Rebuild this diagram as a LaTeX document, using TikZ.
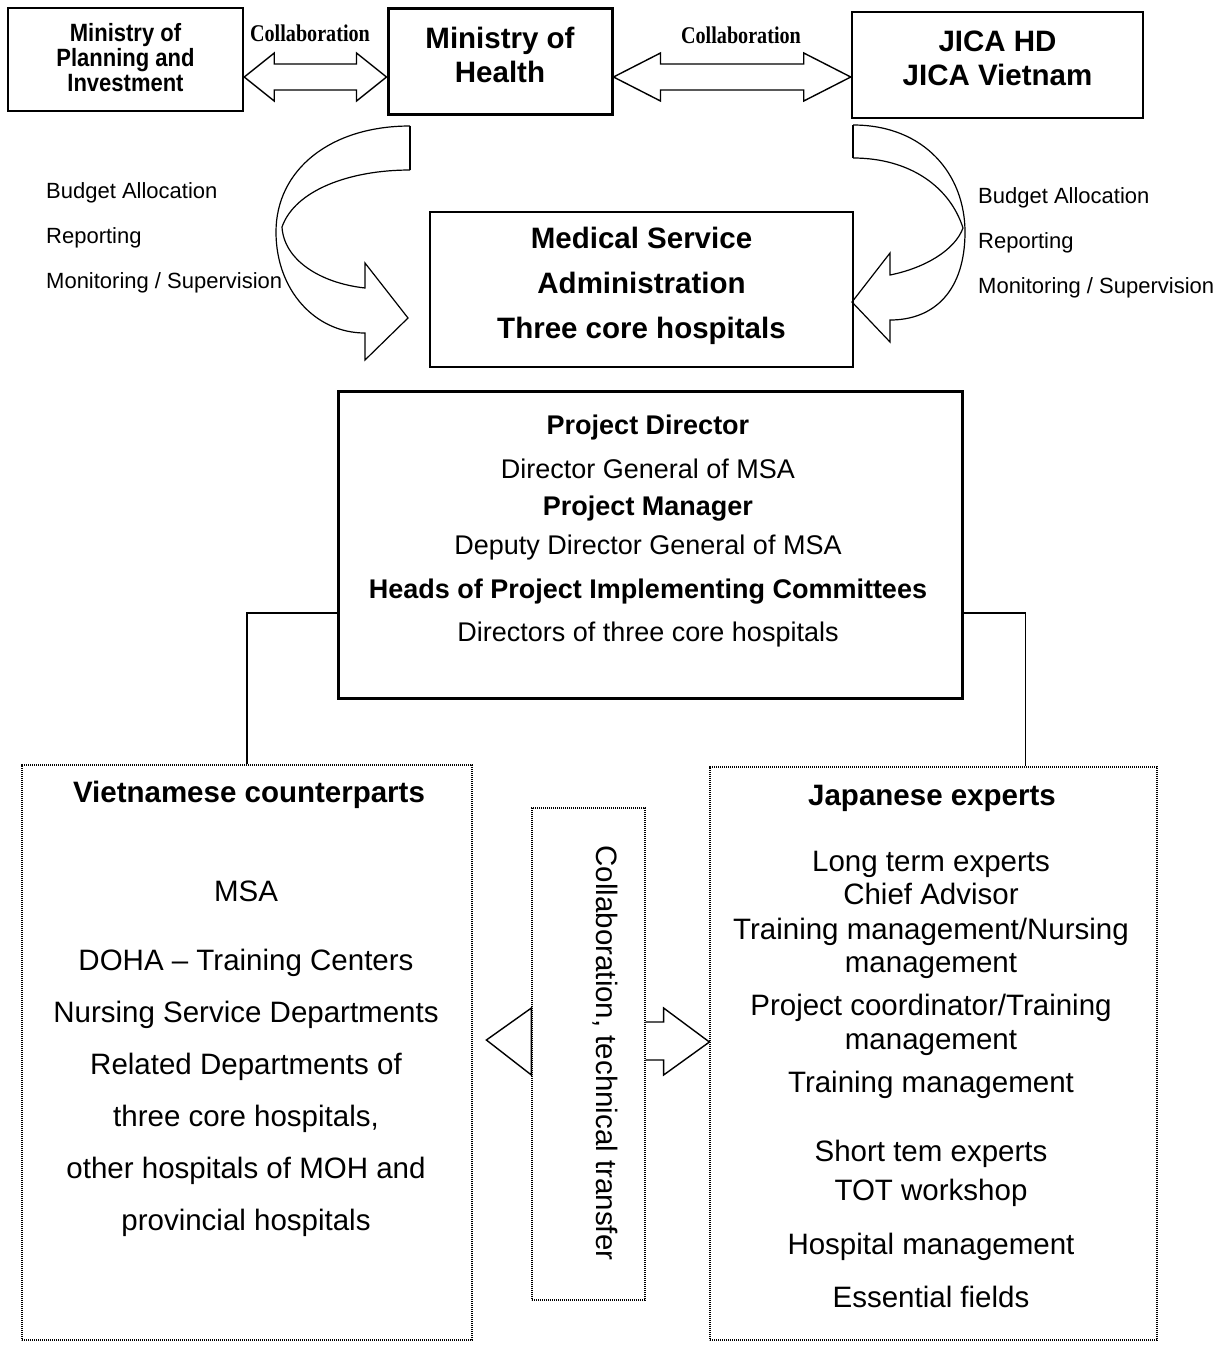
\documentclass[tikz,border=0pt]{standalone}
\usepackage{fontspec}
\setmainfont{Liberation Sans}
\newfontfamily\collabfont[FakeStretch=0.84]{Liberation Serif}
\newfontfamily\narrowfont[FakeStretch=0.88]{Liberation Sans}
\usetikzlibrary{calc}

\begin{document}
\begin{tikzpicture}[x=1pt, y=-1pt,
  box/.style={rectangle, draw, line width=2.5pt, align=center, inner sep=0pt},
  dotbox/.style={rectangle, draw, line width=1.2pt, dash pattern=on 1.2pt off 0.8pt},
  fatarrow/.style={draw, line width=1.4pt, line join=miter},
  bendarrow/.style={draw, line width=1.2pt}]
  \useasboundingbox (0,0) rectangle (1230,1345);

  % top row
  \node[box, minimum width=235pt, minimum height=103pt, text depth=4pt, font=\narrowfont\bfseries\fontsize{25}{25}\selectfont] (mpi) at (125.5,59.5) {Ministry of\\Planning and\\Investment};
  \node[box, line width=3pt, minimum width=224pt, minimum height=106pt, text depth=12pt, font=\bfseries\fontsize{29.5}{34}\selectfont] (moh) at (500,61) {Ministry of\\Health};
  \node[box, minimum width=291pt, minimum height=106pt, text depth=14pt, font=\bfseries\fontsize{29.5}{34}\selectfont] (jica) at (997.5,65) {JICA HD\\JICA Vietnam};
  \node[font=\collabfont\bfseries\fontsize{24}{24}\selectfont] (collab1) at (310,33) {Collaboration};
  \node[font=\collabfont\bfseries\fontsize{24}{24}\selectfont] (collab2) at (741,35) {Collaboration};

  \coordinate (la) at ($(mpi.east)+(0,17.5)$);
  \coordinate (ra) at ($(moh.west)+(0,16)$);
  \draw[fatarrow] (la) -- ++(30,-24) -- ++(0,11) -- ($(ra)+(-30,-13)$) -- ++(0,-11) -- (ra)
    -- ++(-30,24) -- ++(0,-11) -- ($(la)+(30,13)$) -- ++(0,11) -- cycle;
  \coordinate (lb) at ($(moh.east)+(0,16)$);
  \coordinate (rb) at ($(jica.west)+(0,12)$);
  \draw[fatarrow] (lb) -- ++(47,-24) -- ++(0,11) -- ($(rb)+(-47,-13)$) -- ++(0,-11) -- (rb)
    -- ++(-47,24) -- ++(0,-11) -- ($(lb)+(47,13)$) -- ++(0,11) -- cycle;

  % MSA and the bent arrows
  \node[box, line width=1.5pt, minimum width=423pt, minimum height=155pt, text depth=14pt, font=\bfseries\fontsize{29.5}{45}\selectfont] (msa) at (641.5,289.5) {Medical Service\\Administration\\Three core hospitals};

  \draw[bendarrow] (410,126) -- (410,170);
  \draw[bendarrow] (410,126) .. controls (330,126) and (276,170) .. (276,232)
    .. controls (276,290) and (315,333) .. (365,333) -- (365,360) -- (408,318) -- (365,263) -- (365,288)
    .. controls (320,283) and (284,260) .. (282,227);
  \draw[bendarrow] (410,170) .. controls (350,170) and (295,190) .. (282,227);

  \draw[bendarrow] (853,125) -- (853,158);
  \draw[bendarrow] (853,125) .. controls (925,125) and (965,175) .. (965,232)
    .. controls (965,290) and (935,320) .. (890,320) -- (890,342) -- (852,302) -- (890,253) -- (890,275)
    .. controls (925,268) and (955,250) .. (963,228);
  \draw[bendarrow] (853,158) .. controls (910,158) and (950,187) .. (963,228);

  \node[anchor=north west, align=left, inner sep=0pt, font=\fontsize{22}{45}\selectfont] (leftlabels) at (46,182) {Budget Allocation\\Reporting\\Monitoring / Supervision};
  \node[anchor=north west, align=left, inner sep=0pt, font=\fontsize{22}{45}\selectfont] (rightlabels) at (978,187) {Budget Allocation\\Reporting\\Monitoring / Supervision};

  % project management
  \node[box, line width=3pt, minimum width=624pt, minimum height=307pt] (pd) at (650,544.5) {};
  \node[anchor=north, align=center, inner sep=0pt, font=\fontsize{27}{40}\selectfont] (pdtext) at (648,415) {\textbf{Project Director}\\[4pt]Director General of MSA\\[-3pt]\textbf{Project Manager}\\[-1pt]Deputy Director General of MSA\\[4pt]\textbf{Heads of Project Implementing Committees}\\[3pt]Directors of three core hospitals};

  % counterparts and experts
  \node[dotbox, minimum width=450pt, minimum height=575pt] (vn) at (247,1052.5) {};
  \node[anchor=base, font=\bfseries\fontsize{29.5}{34}\selectfont] (vntitle) at (249,802) {Vietnamese counterparts};
  \node[anchor=north, align=center, inner sep=0pt, font=\fontsize{29.5}{52}\selectfont] (vnlist) at (246,881) {MSA\\[17pt]DOHA – Training Centers\\Nursing Service Departments\\Related Departments of\\three core hospitals,\\other hospitals of MOH and\\provincial hospitals};

  \node[dotbox, minimum width=447pt, minimum height=573pt] (jp) at (933.5,1053.5) {};
  \node[anchor=base, font=\bfseries\fontsize{29.5}{34}\selectfont] (jptitle) at (932,805) {Japanese experts};
  \node[anchor=north, align=center, inner sep=0pt, font=\fontsize{29.5}{34}\selectfont] (jplist) at (931,851) {Long term experts\\[-1pt]Chief Advisor\\[1pt]Training management/Nursing\\[-1pt]management\\[9pt]Project coordinator/Training\\management\\[9pt]Training management\\[35pt]Short tem experts\\[5pt]TOT workshop\\[20pt]Hospital management\\[19pt]Essential fields};

  \draw[line width=1.2pt] ($(pd.west)+(0,68.5)$) -| (vn.north);
  \draw[line width=1.2pt] ($(pd.east)+(0,68.5)$) -| ($(jp.north east)+(-132,0)$);

  % collaboration in the middle
  \node[dotbox, minimum width=113pt, minimum height=492pt] (cb) at (588.5,1054) {};
  \node[rotate=-90, font=\fontsize{29.5}{34}\selectfont] (cbtext) at (605,1053) {Collaboration, technical transfer};
  \draw[fatarrow] ($(cb.west)+(0,-46)$) -- ($(cb.west)+(-45,-14)$) -- ($(cb.west)+(0,21)$) -- cycle;
  \draw[fatarrow] ($(cb.east)+(0,-32)$) -- ++(18,0) -- ++(0,-14) -- ($(jp.west)+(0,-11.5)$)
    -- ($(cb.east)+(18,21)$) -- ++(0,-15) -- ($(cb.east)+(0,6)$);
\end{tikzpicture}
\end{document}
